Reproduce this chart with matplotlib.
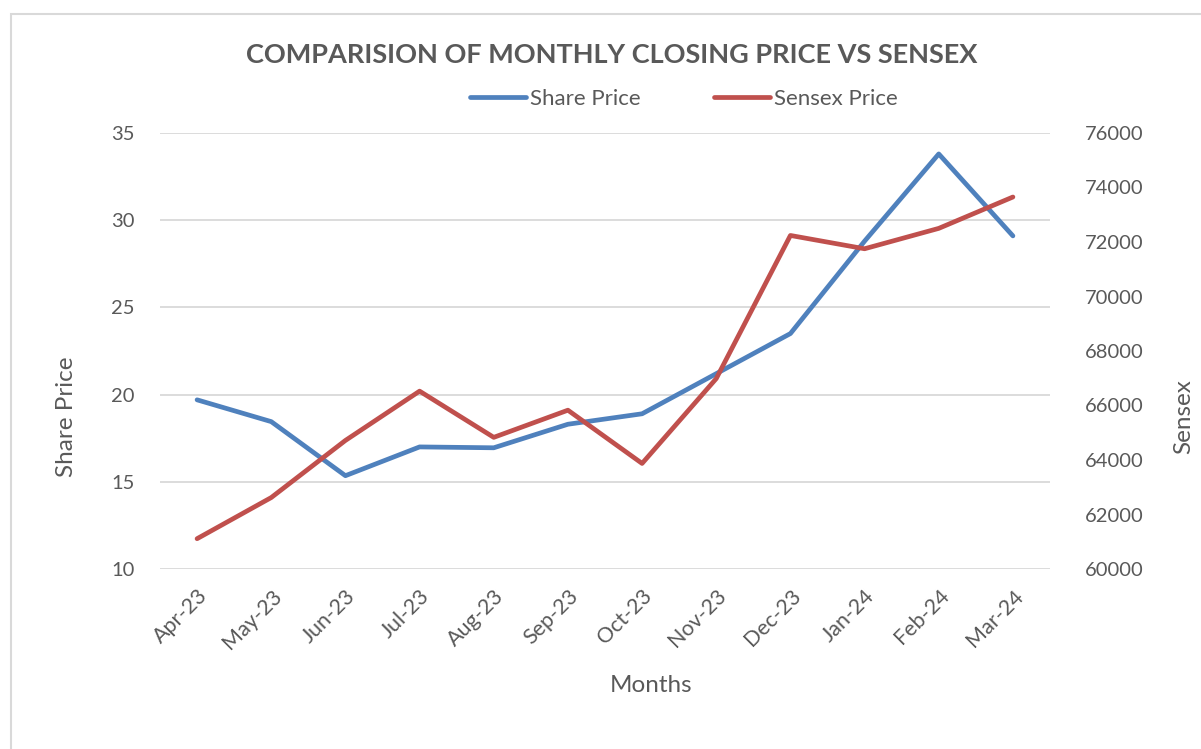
import matplotlib
matplotlib.use("Agg")
import matplotlib.pyplot as plt
from matplotlib.patches import Rectangle
from matplotlib.lines import Line2D

#----------------------Data---------------------------
months = ['Apr-23', 'May-23', 'Jun-23', 'Jul-23', 'Aug-23', 'Sep-23',
          'Oct-23', 'Nov-23', 'Dec-23', 'Jan-24', 'Feb-24', 'Mar-24']
share_price = [19.7, 18.45, 15.35, 17.0, 16.95, 18.3, 18.9, 21.2, 23.5, 28.8, 33.8, 29.1]
sensex_price = [61112, 62622, 64718, 66527, 64831, 65828, 63874, 66988, 72240, 71752, 72500, 73651]

blue = '#4F81BD'
red = '#C0504D'
grey = '#595959'

plt.rcParams['font.family'] = ['Lato', 'DejaVu Sans']

fig = plt.figure(figsize=(12.01, 7.49), dpi=100)
# рамка вокруг диаграммы
fig.patches.append(Rectangle((11 / 1201, -0.1), 1.2, (749 - 14) / 749 + 0.1,
                             transform=fig.transFigure, fill=False,
                             edgecolor='#D9D9D9', linewidth=1.5))

ax = fig.add_axes([160 / 1201, 180 / 749, 890 / 1201, 436 / 749])
ax2 = ax.twinx()

x = list(range(len(months)))
ax.plot(x, share_price, color=blue, linewidth=3.4, solid_capstyle='round', zorder=3)
ax2.plot(x, sensex_price, color=red, linewidth=3.4, solid_capstyle='round', zorder=3)

ax.set_xlim(-0.5, len(months) - 0.5)
ax.set_ylim(10, 35)
ax.set_yticks([10, 15, 20, 25, 30, 35])
ax2.set_ylim(60000, 76000)
ax2.set_yticks(range(60000, 76001, 2000))

ax.set_xticks(x)
ax.set_xticklabels(months, rotation=45, ha='right', rotation_mode='anchor')

ax.grid(axis='y', color='#D9D9D9', linewidth=1.3)
ax.set_axisbelow(True)
for a in (ax, ax2):
    for s in a.spines.values():
        s.set_visible(False)
    a.tick_params(length=0, labelsize=14.5, colors=grey)
ax.tick_params(axis='y', pad=18)
ax2.tick_params(axis='y', pad=25)
ax.tick_params(axis='x', pad=12, labelsize=15.5)

ax.set_ylabel('Share Price', fontsize=17.5, color=grey)
ax.yaxis.set_label_coords(-0.093, 0.35)
ax2.set_ylabel('Sensex', fontsize=17.5, color=grey)
ax2.yaxis.set_label_coords(1.139, 0.35)
ax.set_xlabel('Months', fontsize=17.5, color=grey)
ax.xaxis.set_label_coords(0.552, -0.242)

fig.text(612 / 1201, 1 - 55 / 749, 'COMPARISION OF MONTHLY CLOSING PRICE VS SENSEX',
         ha='center', va='center', fontsize=19.5, fontweight='bold', color=grey)

handles = [Line2D([], [], color=blue, linewidth=3.4, solid_capstyle='round'),
           Line2D([], [], color=red, linewidth=3.4, solid_capstyle='round')]
fig.legend(handles, ['Share Price', 'Sensex Price'], loc='center',
           bbox_to_anchor=(684 / 1201, 1 - 99 / 749), ncol=2, frameon=False,
           fontsize=16, labelcolor=grey, handlelength=2.5, handletextpad=0.2,
           columnspacing=3.3)

fig.savefig('out.png', dpi=100)
